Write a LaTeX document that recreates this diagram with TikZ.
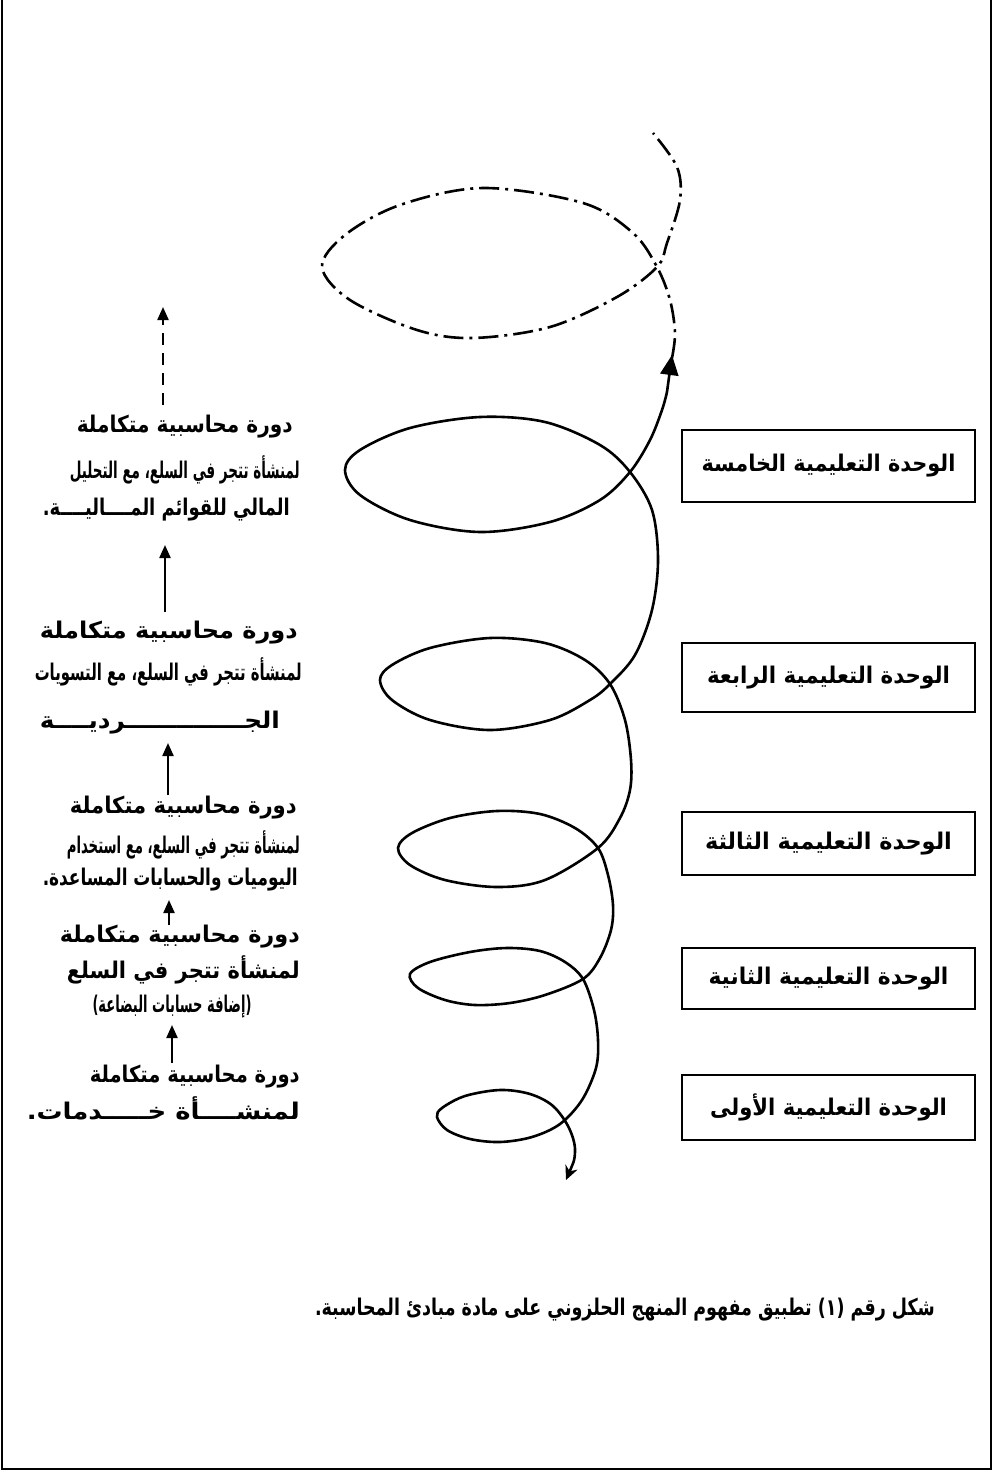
\documentclass[tikz,border=0pt]{standalone}
\usepackage{fontspec}
\usepackage{graphicx}
\newfontfamily\arabicfont[Script=Arabic]{DejaVu Sans}
\TeXXeTstate=1
\usetikzlibrary{arrows.meta}
\newcommand{\fitw}[2]{\resizebox{#1}{\height}{#2}}
\tikzset{
  txt/.style={font={\fontsize{23}{27}\selectfont\arabicfont\bfseries}, inner sep=0pt},
  unitbox/.style={draw, line width=2.5pt, minimum width=293pt, inner sep=0pt,
    font={\fontsize{23}{27}\selectfont\arabicfont\bfseries}},
  spiral/.style={line width=2.6pt, line cap=round},
  dashdotline/.style={line width=2.6pt, dash pattern=on 20pt off 6pt on 3pt off 6pt},
  uparrow/.style={line width=2.2pt, -{Triangle[length=13pt,width=11pt]}},
  frame/.style={line width=2.5pt},
}
\begin{document}
\begin{tikzpicture}[x=1pt,y=-1pt]
\useasboundingbox (0,0) rectangle (994,1472);
\fill[white] (0,0) rectangle (994,1472);
\draw[frame] (2,0) -- (2,1469) -- (991,1469) -- (991,0);

% right boxes
\node[unitbox, minimum height=72pt] (u5) at (828.5,466) {\fitw{254pt}{\beginR الوحدة التعليمية الخامسة\endR}};
\node[unitbox, minimum height=69pt] (u4) at (828.5,677.5) {\fitw{243pt}{\beginR الوحدة التعليمية الرابعة\endR}};
\node[unitbox, minimum height=63pt] (u3) at (828.5,843.5) {\fitw{247pt}{\beginR الوحدة التعليمية الثالثة\endR}};
\node[unitbox, minimum height=61pt] (u2) at (828.5,978.5) {\fitw{240pt}{\beginR الوحدة التعليمية الثانية\endR}};
\node[unitbox, minimum height=65pt] (u1) at (828.5,1107.5) {\fitw{237pt}{\beginR الوحدة التعليمية الأولى\endR}};

% left blocks
\node[txt, anchor=east] (b1a) at (293,427) {\fitw{216pt}{\beginR دورة محاسبية متكاملة\endR}};
\node[txt, anchor=east] (b1b) at (300,470) {\fitw{230pt}{\beginR لمنشأة تتجر في السلع، مع التحليل\endR}};
\node[txt, anchor=east] (b1c) at (290,510) {\fitw{247pt}{\beginR المالي للقوائم المــــاليــــة.\endR}};

\node[txt, anchor=east] (b2a) at (298,633) {\fitw{258pt}{\beginR دورة محاسبية متكاملة\endR}};
\node[txt, anchor=east] (b2b) at (302,672) {\fitw{267pt}{\beginR لمنشأة تتجر في السلع، مع التسويات\endR}};
\node[txt, anchor=east] (b2c) at (280,723) {\fitw{240pt}{\beginR الجــــــــــــــرديــــة\endR}};

\node[txt, anchor=east] (b3a) at (297,808) {\fitw{227pt}{\beginR دورة محاسبية متكاملة\endR}};
\node[txt, anchor=east] (b3b) at (300,845) {\fitw{233pt}{\beginR لمنشأة تتجر في السلع، مع استخدام\endR}};
\node[txt, anchor=east] (b3c) at (298,880) {\fitw{255pt}{\beginR اليوميات والحسابات المساعدة.\endR}};

\node[txt, anchor=east] (b4a) at (300,937) {\fitw{240pt}{\beginR دورة محاسبية متكاملة\endR}};
\node[txt, anchor=east] (b4b) at (300,970) {\fitw{233pt}{\beginR لمنشأة تتجر في السلع\endR}};
\node[txt] (b4c) at (172,1007) {\fitw{159pt}{\beginR (إضافة حسابات البضاعة)\endR}};

\node[txt, anchor=east] (b5a) at (300,1077) {\fitw{210pt}{\beginR دورة محاسبية متكاملة\endR}};
\node[txt, anchor=east] (b5b) at (300,1108) {\fitw{273pt}{\beginR لمنشــــأة خـــــدمات.\endR}};

% arrows between blocks
\coordinate (a1s) at (163,405); \coordinate (a1e) at (163,307);
\coordinate (a2s) at (165,612); \coordinate (a2e) at (165,545);
\coordinate (a3s) at (168,795); \coordinate (a3e) at (168,743);
\coordinate (a4s) at (169,925); \coordinate (a4e) at (169,900);
\coordinate (a5s) at (172,1063); \coordinate (a5e) at (172,1025);
\draw[uparrow, dash pattern=on 12pt off 8pt] (a1s) -- (a1e);
\draw[uparrow] (a2s) -- (a2e);
\draw[uparrow] (a3s) -- (a3e);
\draw[uparrow] (a4s) -- (a4e);
\draw[uparrow] (a5s) -- (a5e);

% spiral (solid part)
\draw[spiral, {Stealth[length=14pt,width=13pt]}-] plot[smooth, tension=0.55] coordinates {
 (566,1180) (575,1152) (569,1128) (553,1106) (530,1094) (500,1090) (465,1096) (442,1108) (437,1117)
 (447,1130) (470,1139) (500,1142) (532,1137) (560,1124) (582,1100) (596,1068) (598,1040) (594,1010)
 (583,979) (565,962) (540,951) (507,948) (470,952) (430,962) (410,974) (418,988) (445,1000) (475,1005)
 (510,1003) (545,995) (583,979) (600,958) (611,930) (613,905) (608,875) (598,848)
 (575,828) (540,814) (497,811) (450,818) (412,833) (398,848) (410,865) (445,880) (497,887) (545,880)
 (598,848) (620,818) (630,790) (631,760) (625,720) (610,684)
 (585,660) (545,643) (490,638) (430,648) (392,665) (380,680) (392,700) (430,720) (490,730) (550,720)
 (590,700) (610,684) (635,655) (652,610) (658,560) (652,510) (630,472)
 (600,445) (545,422) (480,417) (410,428) (360,450) (345,470) (360,495) (410,520) (480,532) (550,522)
 (600,500) (630,472) (650,440) (662,410) (667,392)
};
\coordinate (sEnd) at (667,392);
\coordinate (tip) at (672,355);
\draw[dashdotline, -{Triangle[length=20pt,width=18pt]}] (sEnd) -- (tip);
\draw[dashdotline] plot[smooth, tension=0.55] coordinates {
 (672,358) (675,333) (670,300) (657,267) (633,233) (583,203) (483,188) (400,205) (345,235) (322,267)
 (350,300) (417,330) (473,338) (550,327) (617,297) (657,267) (667,243) (680,200) (677,167) (653,133)
};

% caption
\node[txt] (cap) at (625,1310) {\fitw{620pt}{\beginR شكل رقم (١)  تطبيق مفهوم المنهج الحلزوني على مادة مبادئ المحاسبة.\endR}};
\end{tikzpicture}
\end{document}
